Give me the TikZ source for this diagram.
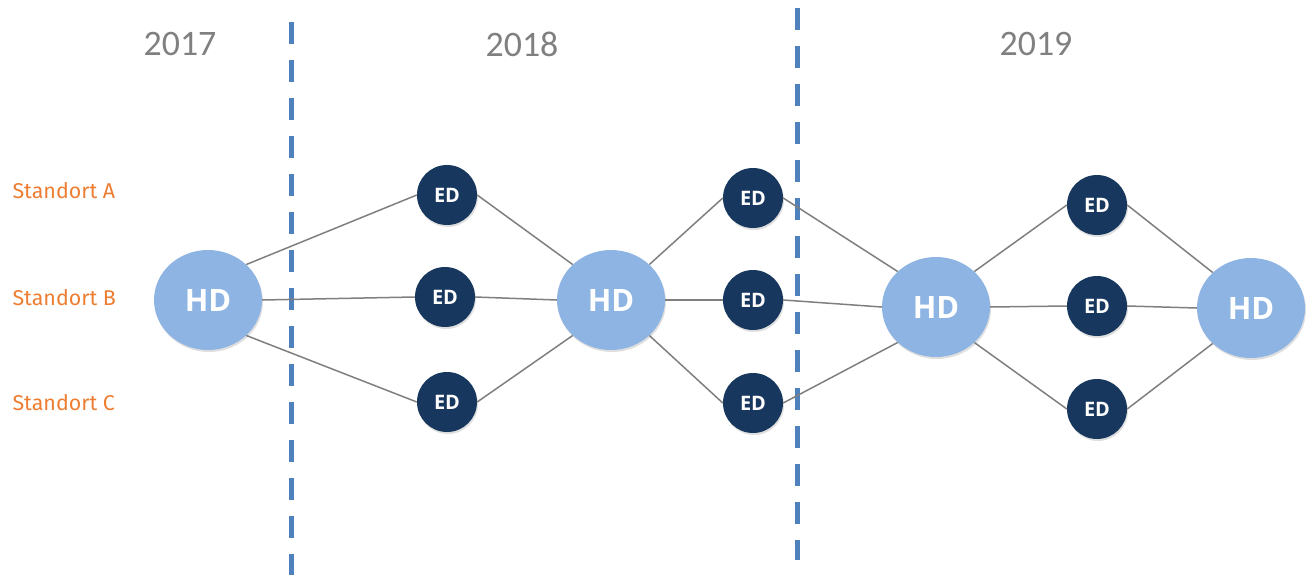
\documentclass[tikz,border=0pt]{standalone}
\usepackage{fontspec}
\setmainfont{Carlito}
\newfontfamily\nodefont{Open Sans}
\newfontfamily\stfont{Fira Sans}
\usetikzlibrary{shapes.geometric,shadows}
\definecolor{hdfill}{HTML}{8EB4E3}
\definecolor{edfill}{HTML}{17375E}
\definecolor{dashblue}{HTML}{4F81BD}
\definecolor{edgegray}{HTML}{7F7F7F}
\definecolor{yeargray}{HTML}{808080}
\definecolor{storange}{HTML}{ED7D31}
\tikzset{
  hd/.style={ellipse, fill=hdfill, minimum width=108bp, minimum height=100bp, inner sep=0pt,
    text=white, font=\nodefont\bfseries\fontsize{31}{35}\selectfont,
    drop shadow={shadow xshift=1bp, shadow yshift=-2bp, opacity=0.25}},
  ed/.style={circle, fill=edfill, minimum size=60bp, inner sep=0pt,
    text=white, font=\nodefont\bfseries\fontsize{20}{24}\selectfont,
    drop shadow={shadow xshift=1bp, shadow yshift=-2bp, opacity=0.25}},
  link/.style={draw=edgegray, line width=1.5bp},
  divider/.style={draw=dashblue, line width=5bp, dash pattern=on 22bp off 16bp},
  year/.style={text=yeargray, font=\fontsize{36}{40}\selectfont},
  site/.style={text=storange, font=\stfont\fontsize{21.5}{25}\selectfont, anchor=west}
}
\begin{document}
\begin{tikzpicture}[x=1bp,y=-1bp]
\useasboundingbox (0,0) rectangle (1307,584);
% dividers
\coordinate (d1t) at (291,22);
\coordinate (d1b) at (291,575);
\coordinate (d2t) at (797,8);
\coordinate (d2b) at (797,560);
\draw[divider] (d1t) -- (d1b);
\draw[divider] (d2t) -- (d2b);
% years
\node[year] (y17) at (180,44) {2017};
\node[year] (y18) at (522,44) {2018};
\node[year] (y19) at (1036,44) {2019};
% sites
\node[site] (sa) at (9,191) {Standort A};
\node[site] (sb) at (9,298) {Standort B};
\node[site] (sc) at (9,403) {Standort C};
% nodes
\node[hd] (h1) at (208,300) {HD};
\node[ed] (a1) at (447,195) {ED};
\node[ed] (b1) at (445,297) {ED};
\node[ed] (c1) at (447,402) {ED};
\node[hd] (h2) at (611,300) {HD};
\node[ed] (a2) at (753,198) {ED};
\node[ed] (b2) at (753,300) {ED};
\node[ed] (c2) at (753,403) {ED};
\node[hd] (h3) at (936,307) {HD};
\node[ed] (a3) at (1097,205) {ED};
\node[ed] (b3) at (1097,306) {ED};
\node[ed] (c3) at (1097,409) {ED};
\node[hd] (h4) at (1251,308) {HD};
% links
\foreach \hh/\ea/\eb/\ec/\nn in {h1/a1/b1/c1/h2,h2/a2/b2/c2/h3,h3/a3/b3/c3/h4}{
  \draw[link] (\hh.north east) -- (\ea.west);
  \draw[link] (\hh.east) -- (\eb.west);
  \draw[link] (\hh.south east) -- (\ec.west);
  \draw[link] (\ea.east) -- (\nn.north west);
  \draw[link] (\eb.east) -- (\nn.west);
  \draw[link] (\ec.east) -- (\nn.south west);
}
\end{tikzpicture}
\end{document}
